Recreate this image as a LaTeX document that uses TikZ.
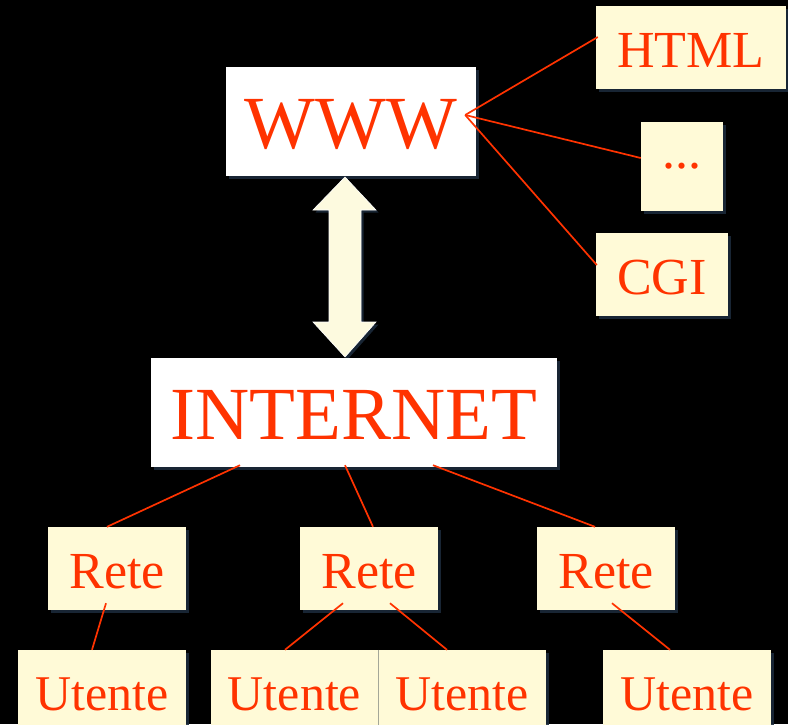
\documentclass[tikz,border=0pt]{standalone}
\usepackage{fontspec}
\setmainfont{Liberation Serif}
\usetikzlibrary{shadows,calc}
\definecolor{txtred}{HTML}{FF3300}
\definecolor{cream}{HTML}{FFFAD7}
\definecolor{arrowcream}{HTML}{FDFADF}
\definecolor{glow}{HTML}{1B2A3A}
\begin{document}
\begin{tikzpicture}[x=1pt,y=-1pt,
  box/.style={fill=cream, text=txtred, inner sep=0pt,
    drop shadow={shadow xshift=2.5pt,shadow yshift=-2.5pt,fill=glow,opacity=0.9}},
  wbox/.style={box, fill=white},
  big/.style={font=\fontsize{75}{75}\selectfont, text height=54pt, text depth=0pt},
  mid/.style={font=\fontsize{52}{52}\selectfont, text height=40pt, text depth=0pt},
  small/.style={font=\fontsize{50}{50}\selectfont, text height=37pt, text depth=0pt},
  link/.style={draw=txtred, line width=1.7pt}]
\fill[black] (0,0) rectangle (788,724);
\useasboundingbox (0,0) rectangle (788,724);
\clip (0,0) rectangle (788,724);

% top level
\node[wbox,big,minimum width=250pt,minimum height=109pt] (www) at (351,121.5) {WWW};
\node[box,mid,minimum width=190pt,minimum height=83pt] (html) at (691,47.5) {HTML};
\node[box,font=\fontsize{52}{52}\selectfont,minimum width=82pt,minimum height=89pt] (dots) at (682,166.5) {...};
\node[box,mid,minimum width=132pt,minimum height=83pt] (cgi) at (662,274.5) {CGI};

% double arrow
\filldraw[fill=arrowcream, draw=white, line width=0.6pt,
  drop shadow={shadow xshift=2.5pt,shadow yshift=-2.5pt,fill=glow,opacity=0.9}]
  (345,177) -- (376,210) -- (361,210) -- (361,322) -- (376,322) -- (345,357)
  -- (313,322) -- (329,322) -- (329,210) -- (313,210) -- cycle;

\node[wbox,big,minimum width=406pt,minimum height=109pt] (inet) at (354,412.5) {INTERNET};

% networks
\node[box,mid,minimum width=138pt,minimum height=83pt] (r1) at (117,568.5) {Rete};
\node[box,mid,minimum width=138pt,minimum height=83pt] (r2) at (369,568.5) {Rete};
\node[box,mid,minimum width=138pt,minimum height=83pt] (r3) at (606,568.5) {Rete};

% users
\node[box,small,minimum width=168pt,minimum height=83pt] (u1) at (102,691.5) {Utente};
\node[box,small,minimum width=167pt,minimum height=83pt] (u2) at (294.5,691.5) {Utente};
\node[box,small,minimum width=168pt,minimum height=83pt] (u3) at (462,691.5) {Utente};
\node[box,small,minimum width=168pt,minimum height=83pt] (u4) at (687,691.5) {Utente};
\draw[glow!40!cream, line width=0.6pt] (u2.north east) -- (u2.south east);

% connectors
\coordinate (wwwp) at ($(www.east)+(-11,-6.5)$);
\draw[link] (wwwp) -- ($(html.west)+(2,-10.5)$);
\draw[link] (wwwp) -- ($(dots.west)+(0,-8.5)$);
\draw[link] (wwwp) -- ($(cgi.west)+(1,-9.5)$);

\draw[link] ($(inet.south)+(-114,-2)$) -- ($(r1.north)+(-10,0)$);
\draw[link] ($(inet.south)+(-9,-2)$) -- ($(r2.north)+(4,0)$);
\draw[link] ($(inet.south)+(79,-2)$) -- ($(r3.north)+(-11,0)$);

\draw[link] ($(r1.south)+(-11,-7)$) -- ($(u1.north)+(-10,0)$);
\draw[link] ($(r2.south)+(-26,-7)$) -- ($(u2.north)+(-9.5,0)$);
\draw[link] ($(r2.south)+(21,-7)$) -- ($(u3.north)+(-15,0)$);
\draw[link] ($(r3.south)+(6,-7)$) -- ($(u4.north)+(-17,0)$);
\end{tikzpicture}
\end{document}
